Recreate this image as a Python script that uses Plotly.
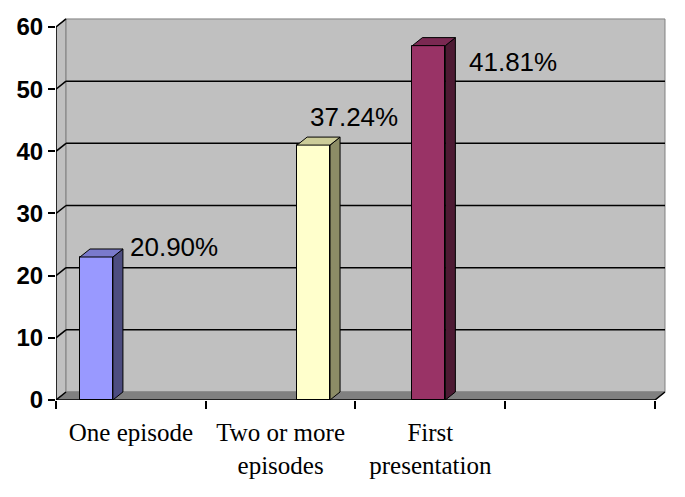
import plotly.graph_objects as go

# data
categories = ["One episode", "Two or more<br>episodes", "First<br>presentation"]
values = [23, 41, 57]
pct_labels = ["20.90%", "37.24%", "41.81%"]
front_colors = ["#9999FF", "#FFFFCC", "#993366"]
side_colors = ["#4D4D80", "#8C8C66", "#4D1A33"]
top_colors = ["#7A7ACC", "#CCCC99", "#7A2952"]

# layout constants (where each bar sits inside its slot, label nudges)
bar_x = [0.27, 1.72, 2.49]
bar_w = 0.22
lab_dx = [0.21, -0.04, 0.255]
lab_dy = [1.6, 4.5, -2.6]
dx, dy = 0.067, 1.29   # fake 3D depth
nslots = 4
ymax = 60

fig = go.Figure()

# walls, floor, gridlines
shapes = []
shapes.append(dict(type="path", layer="below", xref="x", yref="y",
                   path=f"M0,0 L{dx},{dy} L{dx},{ymax+dy} L0,{ymax} Z",
                   fillcolor="#C0C0C0", line=dict(color="#808080", width=1)))
shapes.append(dict(type="rect", layer="below", xref="x", yref="y",
                   x0=dx, y0=dy, x1=nslots + dx, y1=ymax + dy,
                   fillcolor="#C0C0C0", line=dict(color="#808080", width=1)))
shapes.append(dict(type="path", layer="below", xref="x", yref="y",
                   path=f"M0,0 L{nslots},0 L{nslots+dx},{dy} L{dx},{dy} Z",
                   fillcolor="#808080", line=dict(color="#808080", width=1)))
shapes.append(dict(type="line", layer="below", xref="x", yref="y",
                   x0=nslots, y0=0, x1=nslots + dx, y1=dy,
                   line=dict(color="black", width=1.5)))
for v in range(10, ymax, 10):
    shapes.append(dict(type="line", layer="below", xref="x", yref="y",
                       x0=dx, y0=v + dy, x1=nslots + dx, y1=v + dy,
                       line=dict(color="black", width=1.5)))
for v in range(0, ymax + 1, 10):
    shapes.append(dict(type="line", layer="below", xref="x", yref="y",
                       x0=0, y0=v, x1=dx, y1=v + dy,
                       line=dict(color="black", width=1.5)))
# axis lines
shapes.append(dict(type="line", xref="x", yref="y", x0=0, y0=0, x1=0, y1=ymax,
                   line=dict(color="black", width=1.5)))
shapes.append(dict(type="line", xref="x", yref="y", x0=0, y0=0, x1=nslots, y1=0,
                   line=dict(color="black", width=1.5)))

# front faces
fig.add_trace(go.Bar(x=bar_x, y=values, width=bar_w,
                     marker=dict(color=front_colors, line=dict(color="black", width=1)),
                     hoverinfo="skip", showlegend=False))

# side and top faces
for xc, v, sc, tc in zip(bar_x, values, side_colors, top_colors):
    r = xc + bar_w / 2
    l = xc - bar_w / 2
    fig.add_trace(go.Scatter(x=[r, r + dx, r + dx, r, r], y=[0, dy, v + dy, v, 0],
                             fill="toself", fillcolor=sc, mode="lines",
                             line=dict(color="black", width=1),
                             hoverinfo="skip", showlegend=False))
    fig.add_trace(go.Scatter(x=[l, r, r + dx, l + dx, l], y=[v, v, v + dy, v + dy, v],
                             fill="toself", fillcolor=tc, mode="lines",
                             line=dict(color="black", width=1),
                             hoverinfo="skip", showlegend=False))

for xc, v, t, ox, oy in zip(bar_x, values, pct_labels, lab_dx, lab_dy):
    fig.add_annotation(x=xc + ox, y=v + oy, text=t, showarrow=False,
                       xanchor="left", yanchor="middle",
                       font=dict(family="Liberation Sans, Arial", size=26, color="black"))

# page body adds an 8px margin, so the figure is a bit smaller than the window
fig.update_layout(
    width=669, height=481,
    margin=dict(l=48, r=10, t=10, b=89),
    paper_bgcolor="white", plot_bgcolor="white",
    shapes=shapes, bargap=0,
    xaxis=dict(range=[0, nslots + dx * 1.2], tickvals=[0.5, 1.5, 2.5], ticktext=categories,
               ticks="", showgrid=False, zeroline=False, showline=False, automargin=False,
               tickfont=dict(family="Liberation Serif, Times New Roman", size=25, color="black"),
               ticklabelstandoff=15,
               minor=dict(tickvals=list(range(nslots + 1)), ticks="outside", ticklen=8,
                          tickcolor="black", tickwidth=1.5, showgrid=False)),
    yaxis=dict(range=[0, ymax + dy * 1.12], tickvals=list(range(0, ymax + 1, 10)),
               ticks="outside", ticklen=7, tickwidth=1.5, tickcolor="black",
               showgrid=False, zeroline=False, showline=False, automargin=False,
               tickfont=dict(family="Liberation Sans, Arial", size=24, color="black",
                             weight="bold")),
)

fig.write_html("out.html")
